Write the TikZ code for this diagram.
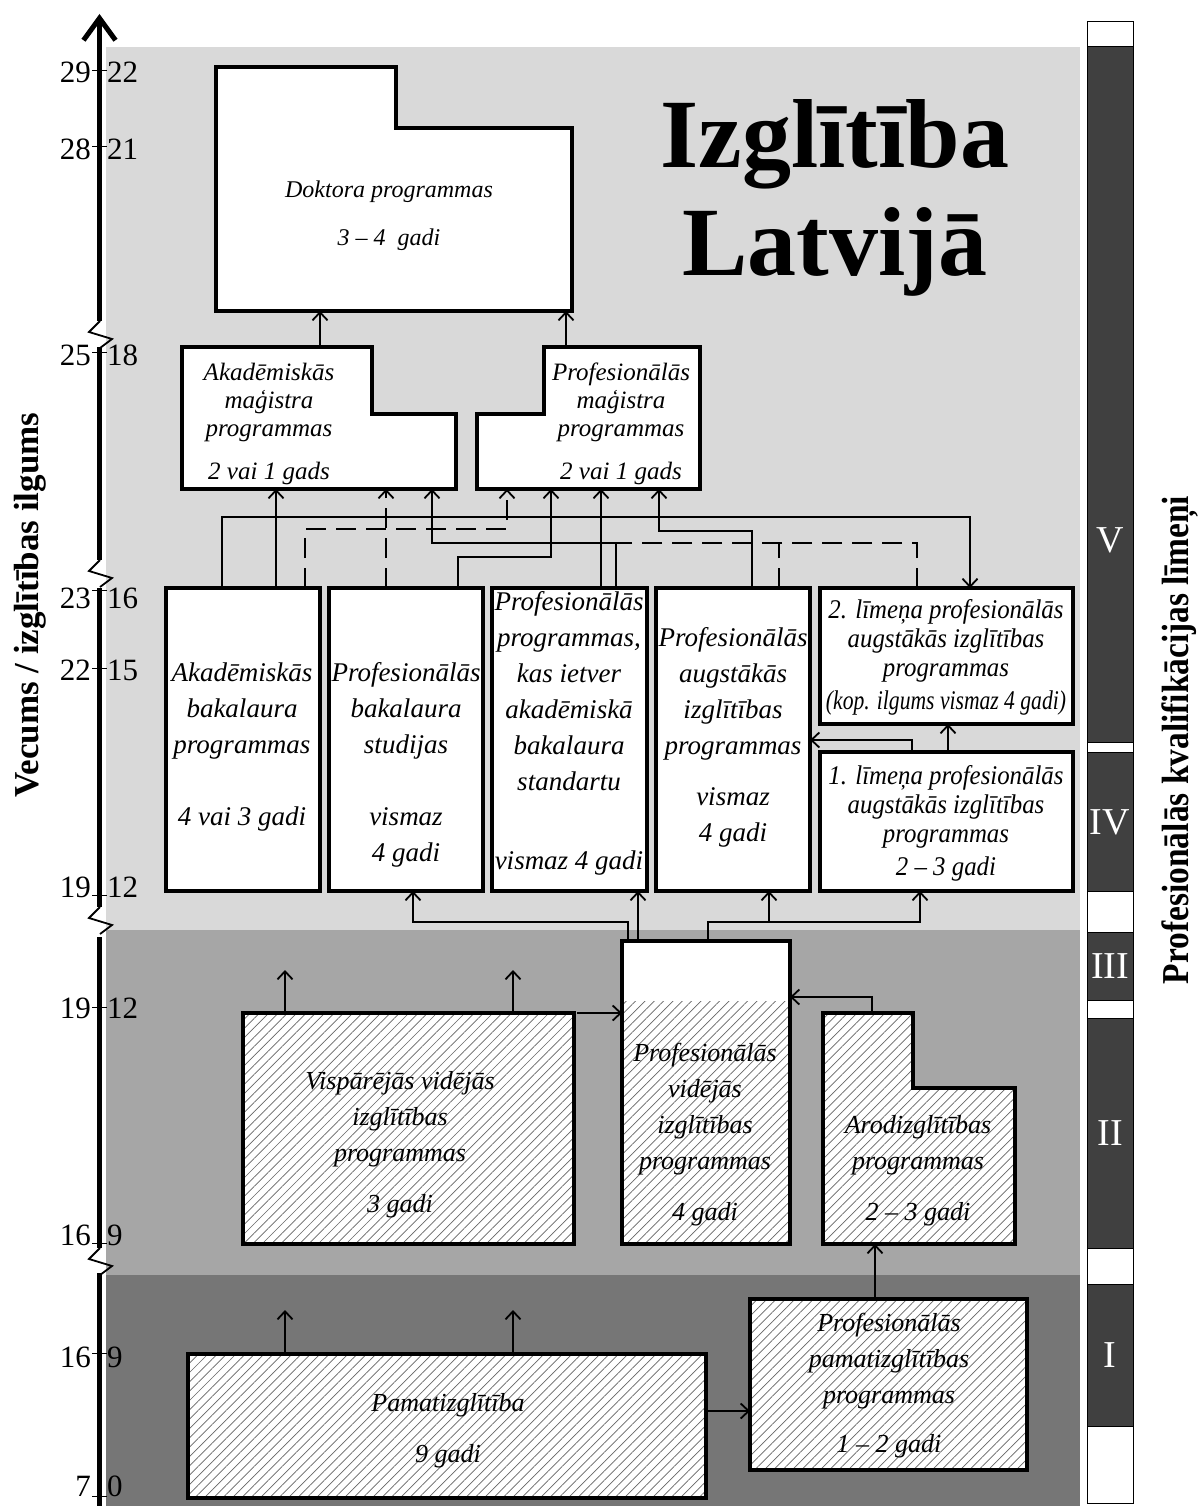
\documentclass[tikz,border=0pt]{standalone}
\usepackage{fontspec}
\usepackage{graphicx}
\setmainfont{Liberation Serif}
\newfontfamily\narrowserif[FakeStretch=0.92]{Liberation Serif}
\newfontfamily\condserif[FakeStretch=0.88]{Liberation Serif}
\usetikzlibrary{arrows.meta,patterns.meta}

\definecolor{upperband}{RGB}{217,217,217}
\definecolor{middleband}{RGB}{166,166,166}
\definecolor{lowerband}{RGB}{118,118,118}
\definecolor{levelfill}{RGB}{64,64,64}

\begin{document}
\begin{tikzpicture}[x=1pt, y=-1pt,
    prog/.style={draw, line width=4pt, fill=white, inner sep=0pt, outer sep=0pt, anchor=north west},
    frame/.style={inner sep=0pt, outer sep=0pt, anchor=north west},
    outline/.style={draw, line width=4pt, line join=miter},
    hatched/.style={preaction={fill=white}, pattern={Lines[angle=45, distance=6.6pt, line width=0.7pt]}, pattern color=black!60},
    progtext/.style={font=\itshape\fontsize{27}{36}\selectfont, align=center, inner sep=0pt},
    sectext/.style={font=\itshape\fontsize{26}{36}\selectfont, align=center, inner sep=0pt},
    leveltext/.style={font=\narrowserif\itshape\fontsize{27}{29}\selectfont, align=center, inner sep=0pt},
    conn/.style={line width=1.8pt, -{Straight Barb[length=8pt, width=15pt]}},
    dconn/.style={conn, dash pattern=on 20pt off 10pt},
    link/.style={line width=1.8pt},
    dlink/.style={link, dash pattern=on 20pt off 10pt},
    agenum/.style={font=\fontsize{31}{31}\selectfont, inner sep=0pt},
    axisline/.style={line width=5pt},
    axisbreak/.style={line width=1.8pt, line join=miter},
    levelnum/.style={font=\fontsize{38}{38}\selectfont, text=white, inner sep=0pt}]
  \useasboundingbox (0,0) rectangle (1198,1506);

  % Draw the three background bands
  \fill[upperband] (106,47) rectangle (1080,930);
  \fill[middleband] (106,930) rectangle (1080,1275);
  \fill[lowerband] (106,1275) rectangle (1080,1506);

  % Draw the age axis with its breaks
  \draw[axisline, -{Straight Barb[length=22pt, width=32pt]}] (99.5,321) -- (99.5,14);
  \draw[axisline] (99.5,347) -- (99.5,560);
  \draw[axisline] (99.5,588) -- (99.5,907);
  \draw[axisline] (99.5,937) -- (99.5,1248);
  \draw[axisline] (99.5,1273) -- (99.5,1506);
  \foreach \yb in {321, 560, 907, 1248}
    \draw[axisbreak] (100,\yb) -- (89,\yb+11) -- (112,\yb+18) -- (100,\yb+27);

  % Ages on the left, years of study on the right
  \foreach \yb/\yt/\agel/\ager [count=\i] in {83/71/29/22, 160/147/28/21, 365/352/25/18, 608/590/23/16, 680/668/22/15, 897/895/19/12, 1018/1007/19/12, 1245/1243/16/9, 1367/1353/16/9, 1496/1496/7/0} {
    \draw[line width=1pt] (92,\yt) -- (107,\yt);
    \node[agenum, anchor=base east] (agel\i) at (91,\yb) {\agel};
    \node[agenum, anchor=base west] (ager\i) at (107,\yb) {\ager};
  }

  % Title
  \node[font=\bfseries\fontsize{98}{107}\selectfont, anchor=base, inner sep=0pt] (title1) at (835,168) {Izglītība};
  \node[font=\bfseries\fontsize{98}{107}\selectfont, anchor=base, inner sep=0pt] (title2) at (835,275) {Latvijā};

  % Doctoral programmes
  \node[frame, minimum width=356pt, minimum height=244pt] (dok) at (216,67) {};
  \draw[outline, fill=white] (dok.north west) -- ++(180,0) -- ++(0,61) -- ++(176,0) -- (dok.south east) -- (dok.south west) -- cycle;
  \node[progtext, font=\itshape\fontsize{24}{48}\selectfont] (dokt) at (389,216) {Doktora programmas\\3 – 4\ \ gadi};

  % Master programmes
  \node[frame, minimum width=274pt, minimum height=142pt] (akm) at (182,347) {};
  \draw[outline, fill=white] (akm.north west) -- ++(190,0) -- ++(0,67) -- ++(84,0) -- (akm.south east) -- (akm.south west) -- cycle;
  \node[progtext, font=\itshape\fontsize{25}{28}\selectfont] (akmt) at (269,424) {Akadēmiskās\\maģistra\\programmas\\[15pt]2 vai 1 gads};

  \node[frame, minimum width=223pt, minimum height=142pt] (pfm) at (477,347) {};
  \draw[outline, fill=white] (pfm.south west) -- ++(0,-75) -- ++(67,0) -- ++(0,-67) -- (pfm.north east) -- (pfm.south east) -- cycle;
  \node[progtext, font=\itshape\fontsize{25}{28}\selectfont] (pfmt) at (621,424) {Profesionālās\\maģistra\\programmas\\[15pt]2 vai 1 gads};

  % Bachelor level programmes
  \node[prog, minimum width=154pt, minimum height=303pt] (b1) at (166,588) {};
  \node[prog, minimum width=154pt, minimum height=303pt] (b2) at (329,588) {};
  \node[prog, minimum width=155pt, minimum height=303pt] (b3) at (492,588) {};
  \node[prog, minimum width=154pt, minimum height=303pt] (b4) at (656,588) {};
  \node[prog, minimum width=253pt, minimum height=136pt] (l2) at (820,588) {};
  \node[prog, minimum width=253pt, minimum height=139pt] (l1) at (820,752) {};

  \node[progtext] (b1t) at (242,747) {Akadēmiskās\\bakalaura\\programmas\\[36pt]4 vai 3 gadi};
  \node[progtext] (b2t) at (406,765) {Profesionālās\\bakalaura\\studijas\\[36pt]vismaz\\4 gadi};
  \node[progtext] (b3t) at (569,733) {Profesionālās\\programmas,\\kas ietver\\akadēmiskā\\bakalaura\\standartu\\[43pt]vismaz 4 gadi};
  \node[progtext] (b4t) at (733,737) {Profesionālās\\augstākās\\izglītības\\programmas\\[15pt]vismaz\\4 gadi};
  \node[leveltext] (l2t) at (946,657) {2. līmeņa profesionālās\\augstākās izglītības\\programmas\\[4pt]\scalebox{0.87}[1]{(kop. ilgums vismaz 4 gadi)}};
  \node[leveltext] (l1t) at (946,823) {1. līmeņa profesionālās\\augstākās izglītības\\programmas\\[4pt]2 – 3 gadi};

  % Secondary level programmes
  \node[prog, hatched, minimum width=331pt, minimum height=231pt] (vsp) at (243,1013) {};
  \node[prog, minimum width=168pt, minimum height=303pt] (pvi) at (622,941) {};
  \fill[hatched] ([yshift=-60pt]pvi.north west) rectangle (pvi.south east);
  \draw[outline] (pvi.north west) rectangle (pvi.south east);
  \node[frame, minimum width=192pt, minimum height=231pt] (aro) at (823,1013) {};
  \draw[outline, hatched] (aro.north west) -- ++(90,0) -- ++(0,75) -- ++(102,0) -- (aro.south east) -- (aro.south west) -- cycle;

  \node[sectext] (vspt) at (400,1145) {Vispārējās vidējās\\izglītības\\programmas\\[15pt]3 gadi};
  \node[sectext] (pvit) at (705,1135) {Profesionālās\\vidējās\\izglītības\\programmas\\[15pt]4 gadi};
  \node[sectext] (arot) at (918,1171) {Arodizglītības\\programmas\\[15pt]2 – 3 gadi};

  % Basic education
  \node[prog, hatched, minimum width=518pt, minimum height=144pt] (pam) at (188,1354) {};
  \node[prog, hatched, minimum width=277pt, minimum height=171pt] (ppa) at (750,1299) {};
  \node[sectext] (pamt) at (448,1431) {Pamatizglītība\\[15pt]9 gadi};
  \node[sectext] (ppat) at (889,1386) {Profesionālās\\pamatizglītības\\programmas\\[13pt]1 – 2 gadi};

  % Connections from the bachelor row to the master programmes
  \draw[dconn] ([xshift=139pt]b1.north west) -- ++(0,-59) -| ([xshift=30pt]pfm.south west);
  \draw[dconn] ([xshift=57pt]b2.north west) -- ([xshift=204pt]akm.south west);
  \draw[dlink] ([xshift=97pt]l2.north west) -- ++(0,-45) -- ++(-301,0);
  \draw[dlink] ([xshift=123pt]b4.north west) -- ++(0,-45);
  \draw[conn] ([xshift=56pt]b1.north west) -- ++(0,-71) -| ([xshift=150pt]l2.north west);
  \draw[conn] ([xshift=110pt]b1.north west) -- ([xshift=94pt]akm.south west);
  \draw[conn] ([xshift=129pt]b2.north west) -- ++(0,-31) -| ([xshift=74pt]pfm.south west);
  \draw[conn] ([xshift=124pt]b3.north west) -- ++(0,-45) -| ([xshift=250pt]akm.south west);
  \draw[conn] ([xshift=109pt]b3.north west) -- ([xshift=124pt]pfm.south west);
  \draw[conn] ([xshift=96pt]b4.north west) -- ++(0,-57) -| ([xshift=182pt]pfm.south west);

  % Master to doctoral programmes
  \draw[conn] ([xshift=138pt]akm.north west) -- ([xshift=104pt]dok.south west);
  \draw[conn] ([xshift=89pt]pfm.north west) -- ([xshift=350pt]dok.south west);

  % Between the professional higher education levels
  \draw[conn] ([xshift=128pt]l1.north west) -- ([xshift=128pt]l2.south west);
  \draw[conn] ([xshift=92pt]l1.north west) |- ([yshift=-152pt]b4.north east);

  % From secondary to higher education
  \draw[conn] ([xshift=6pt]pvi.north west) -- ++(0,-19) -| ([xshift=84pt]b2.south west);
  \draw[conn] ([xshift=16pt]pvi.north west) -- ([xshift=146pt]b3.south west);
  \draw[conn] ([xshift=86pt]pvi.north west) -- ++(0,-19) -| ([xshift=100pt]l1.south west);
  \draw[conn] ([xshift=113pt]b4.south west) ++(0,31) -- ([xshift=113pt]b4.south west);
  \foreach \xs in {42, 270}
    \draw[conn] ([xshift=\xs pt]vsp.north west) -- ++(0,-43);
  \draw[conn] (vsp.north east) ++(3,0) -- (vsp.north east -| pvi.west);
  \draw[conn] ([xshift=49pt]aro.north west) |- ([yshift=-56pt]pvi.north east);

  % From basic education
  \foreach \xs in {97, 325}
    \draw[conn] ([xshift=\xs pt]pam.north west) -- ++(0,-44);
  \draw[conn] ([yshift=15pt]pam.east) -- ([yshift=15pt]pam.east -| ppa.west);
  \draw[conn] ([xshift=125pt]ppa.north west) -- ([xshift=52pt]aro.south west);

  % Qualification levels bar
  \draw[line width=1pt, fill=white] (1087,22) rectangle (1133,1503);
  \foreach \ya/\yb in {47/742, 752/891, 932/1000, 1018/1248, 1284/1426}
    \draw[line width=1pt, fill=levelfill] (1087,\ya) rectangle (1133,\yb);
  \foreach \yn/\lv [count=\i] in {540/V, 822/IV, 966/III, 1133/II, 1355/I}
    \node[levelnum] (lvl\i) at (1110,\yn) {\lv};

  % Axis titles
  \node[rotate=90, font=\bfseries\fontsize{35}{35}\selectfont, inner sep=0pt] (agelabel) at (30,605) {Vecums / izglītības ilgums};
  \node[rotate=90, font=\condserif\bfseries\fontsize{38}{38}\selectfont, inner sep=0pt] (levellabel) at (1180,740) {Profesionālās kvalifikācijas līmeņi};
\end{tikzpicture}
\end{document}
